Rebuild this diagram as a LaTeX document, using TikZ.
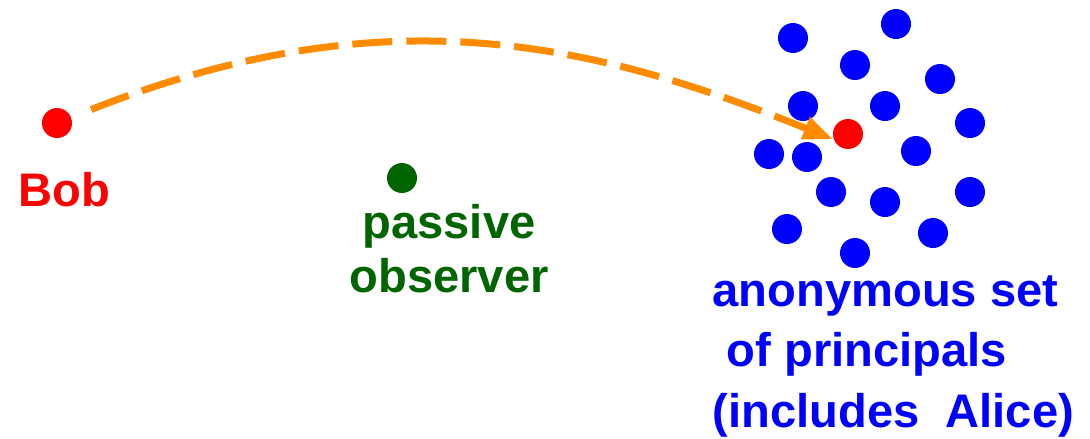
\documentclass[tikz,border=0pt]{standalone}
\usepackage{fontspec}
\setmainfont{Liberation Sans}
\usetikzlibrary{arrows.meta, positioning}
\definecolor{bobred}{RGB}{255, 0, 0}
\definecolor{crowdblue}{RGB}{0, 0, 255}
\definecolor{watchgreen}{RGB}{0, 100, 0}
\definecolor{msgorange}{RGB}{255, 140, 0}
\tikzset{
  dot/.style={circle, fill=#1, inner sep=0pt, minimum size=0.3cm},
  dot/.default=crowdblue,
  nametext/.style={inner sep=0pt, font=\bfseries\fontsize{13.4}{17.1}\selectfont},
  msgarrow/.style={-{Triangle[length=0.3cm, width=0.22cm]}, line width=0.07cm,
              dash pattern=on 0.4cm off 0.14cm, color=msgorange},
}
\begin{document}
\begin{tikzpicture}[x=0.01cm, y=-0.01cm]
  \useasboundingbox (0,0) rectangle (1090,438);
  % sender and observer
  \node[dot=bobred] (bob) at (57,123) {};
  \node[dot=watchgreen] (observer) at (402,178) {};
  \node[nametext, text=bobred, below=0.33cm of bob, xshift=0.075cm] (bobtext) {Bob};
  \node[nametext, text=watchgreen, below=0.1cm of observer, xshift=0.47cm, align=center,
        font=\bfseries\fontsize{13.4}{15.4}\selectfont] (observertext) {passive\\observer};

  % anonymous set
  \node[dot] (s1) at (793,38) {};
  \node[dot] (s2) at (896,24) {};
  \node[dot] (s3) at (855,65) {};
  \node[dot] (s4) at (940,79) {};
  \node[dot] (s5) at (803,106) {};
  \node[dot] (s6) at (885,106) {};
  \node[dot] (s7) at (970,123) {};
  \node[dot] (s8) at (769,154) {};
  \node[dot] (s9) at (807,157) {};
  \node[dot] (s10) at (916,151) {};
  \node[dot] (s11) at (831,192) {};
  \node[dot] (s12) at (885,202) {};
  \node[dot] (s13) at (970,192) {};
  \node[dot] (s14) at (787,229) {};
  \node[dot] (s15) at (933,233) {};
  \node[dot] (s16) at (855,253) {};
  \node[dot=bobred] (target) at (848,134) {};
  \node[nametext, text=crowdblue, anchor=base west, align=left] (settext) at (712,427)
        {anonymous set\\\hspace*{0.3em}of principals\\(includes\ \ Alice)};

  \draw[msgarrow, shorten <=0.21cm] (bob) .. controls (384,-6) and (589,41) .. (target.200);
\end{tikzpicture}
\end{document}
